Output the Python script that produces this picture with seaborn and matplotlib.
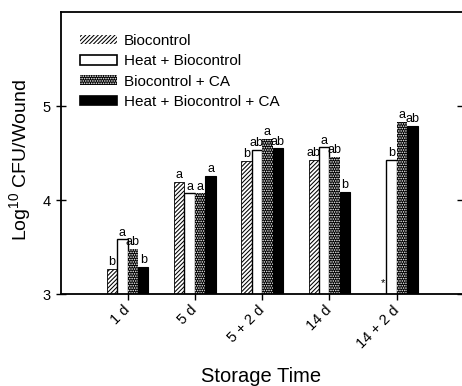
import numpy as np
import pandas as pd
import matplotlib
matplotlib.use("Agg")
import matplotlib.pyplot as plt
from matplotlib.patches import Patch
import seaborn as sns

# ---- data ----
times = ["1 d", "5 d", "5 + 2 d", "14 d", "14 + 2 d"]
treatments = ["Biocontrol", "Heat + Biocontrol", "Biocontrol + CA", "Heat + Biocontrol + CA"]
biocontrol = [3.27, 4.19, 4.42, 4.43, np.nan]
heat_bio = [3.58, 4.07, 4.53, 4.56, 4.43]
bio_ca = [3.48, 4.07, 4.65, 4.46, 4.83]
heat_bio_ca = [3.29, 4.26, 4.55, 4.09, 4.79]
letters = {
    "Biocontrol": ["b", "a", "b", "ab", None],
    "Heat + Biocontrol": ["a", "a", "ab", "a", "b"],
    "Biocontrol + CA": ["ab", "a", "a", "ab", "a"],
    "Heat + Biocontrol + CA": ["b", "a", "ab", "b", "ab"],
}
yticks = [3, 4, 5]

series = [biocontrol, heat_bio, bio_ca, heat_bio_ca]
rows = []
for t, vals in zip(treatments, series):
    for tm, v in zip(times, vals):
        rows.append({"time": tm, "treatment": t, "value": v})
df = pd.DataFrame(rows)

sns.set_style("ticks")
plt.rcParams["font.family"] = ["Liberation Sans", "DejaVu Sans"]
plt.rcParams["mathtext.fontset"] = "custom"
plt.rcParams["mathtext.rm"] = "Liberation Sans"
plt.rcParams["hatch.linewidth"] = 0.75
for k in ["text.color", "axes.labelcolor", "xtick.color", "ytick.color", "axes.edgecolor"]:
    plt.rcParams[k] = "black"

fig = plt.figure(figsize=(4.62, 3.86), dpi=100)
ax = fig.add_axes([61 / 462, 1 - 294 / 386, 401 / 462, 282 / 386])

sns.barplot(data=df, x="time", y="value", hue="treatment", order=times,
            hue_order=treatments, width=0.62, legend=False, ax=ax,
            errorbar=None, gap=0)

styles = [
    dict(facecolor="white", edgecolor="black", hatch="////////", linewidth=0.6),
    dict(facecolor="white", edgecolor="black", hatch=None, linewidth=1.0),
    dict(facecolor="black", edgecolor="white", hatch=".......", linewidth=0.0),
    dict(facecolor="black", edgecolor="black", hatch=None, linewidth=0.8),
]

for cont, t, vals, st in zip(ax.containers, treatments, series, styles):
    labs = [l for l, v in zip(letters[t], vals) if not np.isnan(v)]
    for bar, lab in zip(cont.patches, labs):
        bar.set_facecolor(st["facecolor"])
        bar.set_edgecolor(st["edgecolor"])
        bar.set_linewidth(st["linewidth"])
        if st["hatch"]:
            bar.set_hatch(st["hatch"])
        ax.annotate(lab, (bar.get_x() + bar.get_width() / 2, bar.get_height()),
                    xytext=(0, 0.5), textcoords="offset points",
                    ha="center", va="bottom", fontsize=9)

# asterisk for missing Biocontrol at 14 + 2 d (next to the heat bar)
heat_last = ax.containers[1].patches[-1]
ax.annotate("*", (heat_last.get_x() - heat_last.get_width() / 2, 3),
            xytext=(1, 4), textcoords="offset points",
            ha="center", va="bottom", fontsize=8)

ax.set_ylim(3, 6)
ax.set_xlim(-0.99, 4.97)
ax.set_yticks(yticks)
ax.set_yticklabels([str(v) for v in yticks], fontsize=10.5)
ax.set_xticks(range(len(times)))
ax.set_xticklabels(times, rotation=45, ha="right", va="center",
                   rotation_mode="anchor", fontsize=10.5)
ax.tick_params(axis="x", direction="inout", length=8, width=1, pad=6)
ax.tick_params(axis="y", direction="inout", length=7, width=1, right=True, pad=4)

ax.set_xlabel("Storage Time", fontsize=14.5, labelpad=12)
ax.set_ylabel(r"Log$^{\mathregular{10}}$ CFU/Wound", fontsize=14)
ax.yaxis.set_label_coords(-0.068, 0.475)

for s in ["left", "bottom", "top"]:
    ax.spines[s].set_visible(True)
    ax.spines[s].set_linewidth(1.3)
ax.spines["right"].set_visible(False)

handles = [Patch(facecolor=st["facecolor"], edgecolor=st["edgecolor"],
                 hatch=st["hatch"], linewidth=1.2 if st["hatch"] is None else 0.0)
           for st in styles]
ax.legend(handles, treatments, loc="upper left", bbox_to_anchor=(0.047, 0.921),
          frameon=False, borderpad=0, borderaxespad=0, fontsize=11,
          handlelength=2.45, handleheight=0.55, handletextpad=0.45, labelspacing=0.4)

fig.savefig("out.png", dpi=100)
